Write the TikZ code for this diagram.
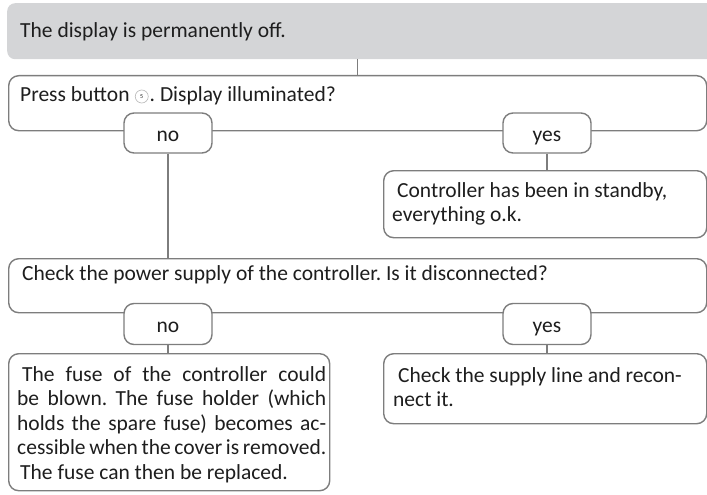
\documentclass[tikz,border=0pt]{standalone}
\usepackage{fontspec}
\setmainfont{Carlito}
\usetikzlibrary{calc}
\definecolor{boxgray}{HTML}{7D7D7D}
\definecolor{fillgray}{HTML}{D4D5D7}
\definecolor{txt}{HTML}{1E1E1E}
\newcommand\fs{\fontsize{21.5}{24.5}\selectfont\frenchspacing}
\begin{document}
\frenchspacing
\begin{tikzpicture}[x=1pt,y=-1pt,
  box/.style={draw=boxgray, line width=1.4pt, rounded corners=10pt, fill=white, inner sep=0pt, anchor=north west},
  pill/.style={draw=boxgray, line width=1.4pt, rounded corners=10pt, fill=white, minimum width=88pt, minimum height=40pt, inner sep=0pt, font=\fs, text=txt, text height=16pt, text depth=0pt},
  conn/.style={draw=boxgray, line width=1.4pt},
  txtnode/.style={anchor=base west, inner sep=0pt, font=\fs, text=txt},
]
\useasboundingbox (0,0) rectangle (707,495);
\begin{scope}
\clip (0,0) rectangle (707,495);
\node[fill=fillgray, rounded corners=8pt, minimum width=720pt, minimum height=56pt, anchor=north west, inner sep=0pt] (start) at (7,3) {};
\end{scope}
\node[txtnode] (t0) at (20,38) {The display is permanently off.};

% boxes
\node[box, minimum width=698pt, minimum height=55pt] (q1) at (8,75) {};
\node[box, minimum width=323pt, minimum height=67pt] (a1) at (383,170) {};
\node[box, minimum width=698pt, minimum height=54pt] (q2) at (8,258) {};
\node[box, minimum width=321pt, minimum height=137pt] (a2) at (8,353) {};
\node[box, minimum width=323pt, minimum height=70pt] (a3) at (383,353) {};

% connectors
\draw[conn] (q1.north) -- (q1.north |- start.south);
\node[pill] (p1no) at (168,133) {no};
\node[pill] (p1yes) at (547,133) {yes};
\node[pill, minimum height=41pt] (p2no) at (168,324) {no};
\node[pill, minimum height=41pt] (p2yes) at (547,324) {yes};
\draw[conn] (p1no.south) -- (p1no.south |- q2.north);
\draw[conn] (p1yes.south) -- (p1yes.south |- a1.north);
\draw[conn] (p2no.south) -- (p2no.south |- a2.north);
\draw[conn] (p2yes.south) -- (p2yes.south |- a3.north);

% question 1 text
\node[txtnode] (t1a) at (20,102) {Press button};
\node[circle, draw=gray!55, line width=0.6pt, minimum size=13pt, inner sep=0pt, text=txt, font=\fontsize{6}{6}\selectfont] (c5) at ($(t1a.base east)+(12,-5.5)$) {5};
\node[txtnode] (t1b) at ($(c5.east |- t1a.base)+(1,0)$) {. Display illuminated?};

% answer 1
\node[txtnode] (t2a) at (397,197) {Controller has been in standby,};
\node[txtnode] (t2b) at (392,221) {everything o.k.};

% question 2
\node[txtnode] (t3) at (22,280) {Check the power supply of the controller. Is it disconnected?};

% answer 2 (justified)
\node[txtnode] (f1) at (22,381) {\makebox[304pt][s]{The fuse of the controller could}};
\node[txtnode] (f2) at (17,405.5) {\makebox[309pt][s]{be blown. The fuse holder (which}};
\node[txtnode] (f3) at (17,430) {\makebox[309pt][s]{holds the spare fuse) becomes ac-}};
\node[txtnode] (f4) at (17,454.5) {\makebox[309pt][s]{cessible when the cover is removed.}};
\node[txtnode] (f5) at (20,479) {The fuse can then be replaced.};

% answer 3
\node[txtnode] (s1) at (398,382) {Check the supply line and recon-};
\node[txtnode] (s2) at (393,406) {nect it.};
\end{tikzpicture}
\end{document}
